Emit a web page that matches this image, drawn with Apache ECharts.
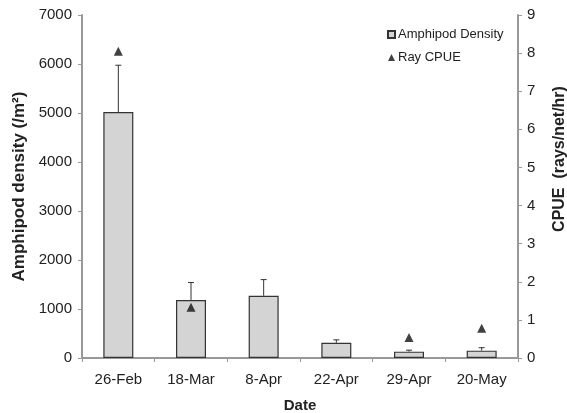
<!DOCTYPE html>
<html><head><meta charset="utf-8">
<script src="https://cdn.jsdelivr.net/npm/echarts@6/dist/echarts.min.js"></script>
<style>html,body{margin:0;padding:0;background:#fff}#c{width:567px;height:413px}</style>
</head><body><div id="c"></div>
<script>
var categories = ['26-Feb','18-Mar','8-Apr','22-Apr','29-Apr','20-May'];
var density = [5020, 1185, 1270, 310, 130, 150];
var densityErrTop = [5975, 1540, 1600, 370, 160, 210];
var cpue = [8.05, 1.33, null, null, 0.54, 0.78];
var leftTicks = [0, 7000, 1000];
var rightTicks = [0, 9, 1];

var chart = echarts.init(document.getElementById('c'));
var font = 'Liberation Sans, Arial, sans-serif';
var errData = categories.map(function(c,i){ return [i, density[i], densityErrTop[i]]; });
function plain(v){ return String(v); }
chart.setOption({
  animation:false,
  grid:{left:82,right:49,top:15,bottom:55,containLabel:false,outerBoundsMode:'none'},
  legend:{
    left:382, top:23, orient:'vertical', itemGap:10, itemWidth:7, itemHeight:7,
    textStyle:{fontFamily:font,fontSize:13,color:'#222',padding:[0,0,0,-2]},
    data:[{name:'Amphipod Density',icon:'rect'},{name:'Ray CPUE',icon:'triangle'}]
  },
  xAxis:{
    type:'category', data:categories, boundaryGap:true,
    name:'Date', nameLocation:'middle', nameGap:40,
    nameTextStyle:{fontFamily:font,fontSize:15,fontWeight:'bold',color:'#222'},
    axisLine:{lineStyle:{color:'#999',width:2}},
    axisTick:{show:true,length:4,lineStyle:{color:'#999'}},
    axisLabel:{fontFamily:font,fontSize:15,color:'#222',margin:14}
  },
  yAxis:[{
    type:'value', min:leftTicks[0], max:leftTicks[1], interval:leftTicks[2],
    name:'Amphipod density (/m²)', nameLocation:'middle', nameGap:51,
    nameTextStyle:{fontFamily:font,fontSize:17,fontWeight:'bold',color:'#222'},
    axisLine:{show:true,lineStyle:{color:'#999',width:2}},
    axisTick:{show:true,length:4,lineStyle:{color:'#999'}},
    axisLabel:{fontFamily:font,fontSize:15,color:'#222',margin:10,formatter:plain},
    splitLine:{show:false}
  },{
    type:'value', min:rightTicks[0], max:rightTicks[1], interval:rightTicks[2], position:'right',
    axisLine:{show:true,lineStyle:{color:'#999',width:2}},
    axisTick:{show:true,length:4,lineStyle:{color:'#999'}},
    axisLabel:{fontFamily:font,fontSize:15,color:'#222',margin:9,formatter:plain},
    splitLine:{show:false}
  }],
  graphic:[{
    type:'text', x:560, y:159, rotation:Math.PI/2,
    style:{text:'CPUE  (rays/net/hr)', font:'bold 16px '+font, fill:'#222', textAlign:'center', textVerticalAlign:'middle'}
  }],
  series:[{
    name:'Amphipod Density', type:'bar', data:density, barWidth:30,
    itemStyle:{color:'#d4d4d4', borderColor:'#333', borderWidth:1.2}, z:2
  },{
    name:'err', type:'custom', data:errData, z:3,
    renderItem:function(params, api){
      var base = api.coord([api.value(0), api.value(1)]);
      var top = api.coord([api.value(0), api.value(2)]);
      return {type:'group', children:[
        {type:'line', shape:{x1:base[0],y1:base[1],x2:top[0],y2:top[1]}, style:{stroke:'#333',lineWidth:1}},
        {type:'line', shape:{x1:top[0]-3,y1:top[1],x2:top[0]+3,y2:top[1]}, style:{stroke:'#333',lineWidth:1}}
      ]};
    }
  },{
    name:'Ray CPUE', type:'scatter', yAxisIndex:1, data:cpue, symbol:'triangle', symbolSize:9,
    itemStyle:{color:'#111'}, z:4
  }]
});
</script></body></html>
